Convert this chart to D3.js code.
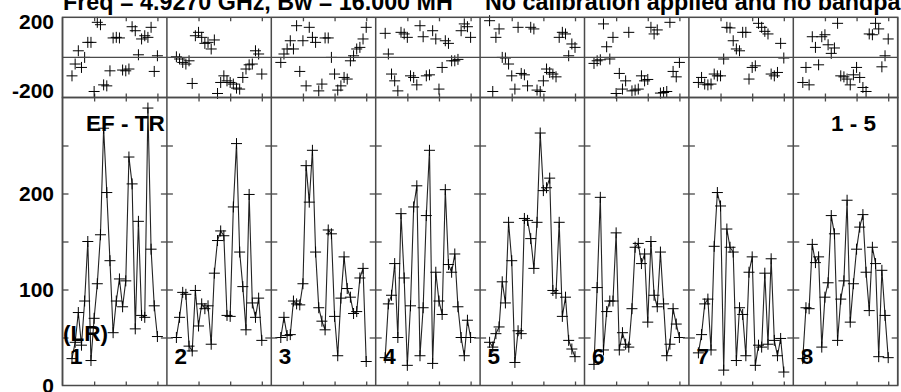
<!DOCTYPE html>
<html lang="en">
<head>
<meta charset="UTF-8">
<title>EF - TR  1 - 5</title>
<script src="https://d3js.org/d3.v7.min.js"></script>
<style>
  body { margin: 0; background: #fff; }
  svg { display: block; font-family: "Liberation Sans", Arial, sans-serif; font-weight: bold; }
</style>
</head>
<body>
<svg id="chart"></svg>
<script>
const width = 901, height = 392;

// IF panels, channels plotted in each, tick values
const ifNums = [1, 2, 3, 4, 5, 6, 7, 8];
const channels = d3.range(3, 31);          // channels 3..30
const chanTicks = [10, 20, 30];
const ampTicks = [50, 100, 150, 200, 250];
const ampLabels = [0, 100, 200];
const phaseLabels = [200, -200];

// amplitude per IF (channels 3..30)
const amp1 = [28, 45, 76, 42, 88, 150, 26, 70, 106, 157, 268, 201, 130, 55, 88, 111, 82, 109, 238, 210, 59, 171, 73, 71, 289, 142, 83, 51];
const amp2 = [50, 71, 97, 95, 41, 36, 99, 62, 85, 80, 83, 43, 117, 151, 161, 156, 73, 72, 186, 252, 139, 103, 58, 199, 86, 71, 91, 47];
const amp3 = [50, 71, 52, 53, 88, 85, 84, 106, 229, 191, 245, 139, 81, 67, 58, 162, 158, 72, 31, 91, 134, 101, 92, 75, 77, 112, 122, 25];
const amp4 = [29, 85, 94, 127, 50, 179, 112, 21, 83, 186, 208, 31, 81, 177, 245, 23, 118, 88, 74, 204, 126, 118, 137, 82, 50, 31, 68, 50];
const amp5 = [45, 40, 54, 61, 108, 86, 170, 130, 24, 57, 54, 174, 172, 153, 122, 170, 263, 203, 206, 216, 99, 96, 170, 72, 92, 47, 38, 30];
const amp6 = [22, 102, 196, 37, 77, 88, 88, 159, 37, 55, 43, 40, 80, 144, 148, 127, 137, 66, 150, 94, 82, 139, 85, 31, 43, 80, 64, 50];
const amp7 = [34, 53, 85, 90, 37, 145, 201, 187, 16, 163, 144, 139, 26, 81, 74, 31, 118, 134, 21, 42, 40, 117, 43, 132, 47, 31, 49, 14];
const amp8 = [28, 81, 80, 147, 128, 134, 40, 92, 107, 177, 158, 47, 90, 109, 193, 66, 106, 142, 165, 178, 118, 78, 144, 127, 30, 120, 73, 29];

// phase (degrees) per IF
const ph1 = [-92, -33, 33, -50, 0, 75, 75, -170, 175, 163, -137, -142, -67, 97, 100, 97, -63, -67, -58, 153, 133, 13, 92, 108, 100, 150, -70, 8];
const ph2 = [3, -8, -25, -33, -17, -130, 108, 125, 100, 70, 75, 42, 87, -180, -125, -92, -117, -125, -133, -153, -158, -100, -58, -37, -33, 33, 17, -83];
const ph3 = [-25, 17, 42, 83, 42, 158, -70, 83, -142, 150, 100, 75, -167, -133, 97, 97, 0, -83, -163, -142, -100, -108, -17, 8, 42, 50, 92, 150];
const ph4 = [120, 17, -83, -117, -167, 125, 117, 100, -92, -100, -137, 158, 103, -92, -87, 133, 92, -158, -50, 83, 70, -17, -17, -10, 133, 167, 153, 100];
const ph5 = [183, -170, 100, 142, 0, -3, -33, -92, -158, 150, -80, -87, -142, 150, 142, -163, -170, -117, -58, -75, -83, -97, 100, 125, 117, 8, 67, 50];
const ph6 = [-30, -17, -12, 167, 53, -8, 100, -180, -80, -158, -117, 125, -167, -163, -158, -92, -117, -110, 150, 117, 137, -178, -175, -170, 175, -70, -97, -25];
const ph7 = [-125, -100, -133, -137, -133, -83, -92, -92, -8, 150, 147, 83, 42, 33, 125, 125, -108, -50, -42, 170, 150, 130, 117, -83, -92, -75, 70, -3];
const ph8 = [-125, -50, -137, 103, 50, -37, 103, 113, 63, 20, 47, 170, -92, -97, -108, -137, -87, -50, -100, -150, -170, 117, 113, 170, 142, -47, 8, 92];

const ampData = [amp1, amp2, amp3, amp4, amp5, amp6, amp7, amp8];
const phaseData = [ph1, ph2, ph3, ph4, ph5, ph6, ph7, ph8];

const left = 62.5, right = 897.7, phTop = 17.3, split = 97.5, bottom = 385.5;
const frame = "#4a4a4a";

const svg = d3.select("#chart").attr("width", width).attr("height", height);

const panel = d3.scaleBand().domain(ifNums).range([left, right]);
const bw = panel.bandwidth();
const yPh = d3.scaleLinear().domain([-200, 200]).range([split, phTop]);
const yAmp = d3.scaleLinear().domain([0, 300]).range([bottom, split]);

const cross = (cx, cy, r = 5.5) => `M${cx - r},${cy}h${2 * r}M${cx},${cy - r}v${2 * r}`;

function noDomain(g) {
    g.select(".domain").remove();
    g.selectAll(".tick line").attr("stroke", frame).attr("stroke-width", 1.3);
}

ifNums.forEach((n, i) => {
    const x0 = panel(n);
    const x = d3.scaleLinear().domain([0, 33]).range([x0, x0 + bw]);
    const g = svg.append("g");

    // channel ticks
    g.append("g").attr("transform", `translate(0,${bottom})`)
        .call(d3.axisBottom(x).tickValues(chanTicks).tickFormat("").tickSize(-4)).call(noDomain);
    g.append("g").attr("transform", `translate(0,${split - 4})`)
        .call(d3.axisBottom(x).tickValues(chanTicks).tickFormat("").tickSize(8)).call(noDomain);
    g.append("g").attr("transform", `translate(0,${phTop})`)
        .call(d3.axisBottom(x).tickValues(chanTicks).tickFormat("").tickSize(4)).call(noDomain);

    const amp = ampData[i].map((v, k) => ({ c: channels[k], v }));
    const ph = phaseData[i].map((v, k) => ({ c: channels[k], v }));

    // phase: markers only
    g.append("path")
        .attr("d", ph.map(d => cross(x(d.c), yPh(d.v))).join(""))
        .attr("stroke", "#000").attr("stroke-width", 1).attr("fill", "none");

    // amplitude: line + markers
    g.append("path").datum(amp)
        .attr("d", d3.line().x(d => x(d.c)).y(d => yAmp(d.v)))
        .attr("stroke", "#222").attr("stroke-width", 1.1).attr("fill", "none");
    g.append("path")
        .attr("d", amp.map(d => cross(x(d.c), yAmp(d.v))).join(""))
        .attr("stroke", "#000").attr("stroke-width", 1).attr("fill", "none");

    // IF number
    svg.append("text").attr("x", x0 + 7.5).attr("y", 364)
        .attr("font-size", 22.5).text(n);
});

// amplitude ticks on every panel border
d3.range(9).forEach(k => {
    const bx = left + k * bw;
    if (k < 8) svg.append("g").attr("transform", `translate(${bx},0)`)
        .call(d3.axisLeft(yAmp).tickValues(ampTicks).tickFormat("").tickSize(-6)).call(noDomain);
    if (k > 0) svg.append("g").attr("transform", `translate(${bx},0)`)
        .call(d3.axisLeft(yAmp).tickValues(ampTicks).tickFormat("").tickSize(6)).call(noDomain);
    svg.append("line").attr("x1", bx).attr("x2", bx).attr("y1", phTop).attr("y2", bottom)
        .attr("stroke", frame).attr("stroke-width", 1.5);
});

// frames and phase zero line
[[phTop, split], [split, bottom]].forEach(([a, b]) => {
    svg.append("rect").attr("x", left).attr("y", a).attr("width", right - left).attr("height", b - a)
        .attr("fill", "none").attr("stroke", frame).attr("stroke-width", 1.5);
});
svg.append("line").attr("x1", left).attr("x2", right).attr("y1", yPh(0)).attr("y2", yPh(0))
    .attr("stroke", frame).attr("stroke-width", 1.3);

// axis labels (plain hyphen minus as in the plot)
const ampAxis = svg.append("g").attr("transform", `translate(${left},0)`)
    .call(d3.axisLeft(yAmp).tickValues(ampLabels).tickFormat(d => String(d)).tickSize(0).tickPadding(8.5));
const phAxis = svg.append("g").attr("transform", `translate(${left},0)`)
    .call(d3.axisLeft(yPh).tickValues(phaseLabels).tickFormat(d => String(d)).tickSize(0).tickPadding(8.5));
[ampAxis, phAxis].forEach(a => {
    a.select(".domain").remove();
    a.selectAll("text").attr("font-family", null).attr("font-size", 21).attr("fill", "#000");
});
phAxis.selectAll("text").attr("dy", d => d > 0 ? "0.55em" : "0em");

// annotations
svg.append("text").attr("x", 63).attr("y", 10).attr("font-size", 23.3)
    .text("Freq = 4.9270 GHz, Bw = 16.000 MH");
svg.append("text").attr("x", 485).attr("y", 10).attr("font-size", 23.3)
    .text("No calibration applied and no bandpass");
svg.append("text").attr("x", 86).attr("y", 131).attr("font-size", 22.5).text("EF - TR");
svg.append("text").attr("x", 876).attr("y", 131).attr("font-size", 22.5)
    .attr("text-anchor", "end").text("1 - 5");
svg.append("text").attr("x", 63).attr("y", 341).attr("font-size", 22.5).text("(LR)");
</script>
</body>
</html>
